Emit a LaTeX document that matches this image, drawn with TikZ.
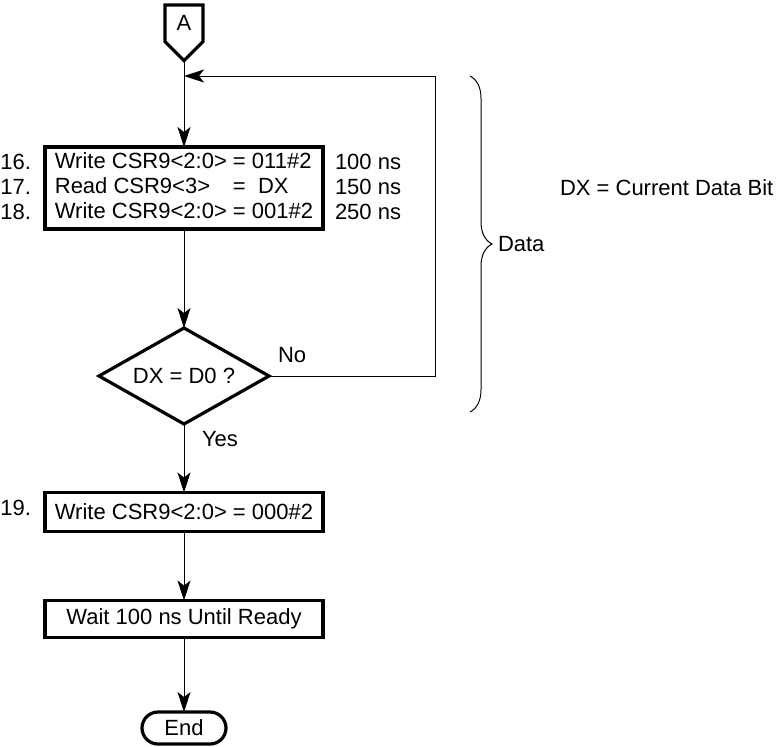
\documentclass[tikz,border=0pt]{standalone}
\usepackage{fontspec}
\setmainfont{Liberation Sans}
\usetikzlibrary{calc, positioning}
\usetikzlibrary{arrows.meta}
\usetikzlibrary{shapes.geometric, shapes.misc, shapes.symbols}
\usetikzlibrary{decorations.pathreplacing}

\begin{document}
\begin{tikzpicture}[
    x=0.5pt,
    y=-0.5pt,
    font=\fontsize{11}{12.5}\selectfont,
    every node/.style={inner sep=0pt, outer sep=0pt},
    flow/.style={-{Stealth[length=10pt, width=6.5pt, inset=2.5pt]}, line width=0.5pt},
    procbox/.style={draw, line width=1.6pt, minimum width=139pt, align=left},
    connector/.style={draw, line width=1.6pt, signal, signal to=south,
        signal pointer angle=90, minimum width=19pt, minimum height=22pt},
    decision/.style={draw, line width=1.6pt, diamond, aspect=2,
        minimum width=85pt, minimum height=48pt},
    terminal/.style={draw, line width=1.6pt, rounded rectangle,
        minimum width=42pt, minimum height=16pt}
]
\useasboundingbox (0,0) rectangle (776,746);

% Flow chart nodes
\node[connector, anchor=north] (conA) at (184,5) {A};
\node[procbox, minimum height=41pt] (rd) at (184,188) {%
    \begin{tabular}{@{}l@{ }l@{}}
    Write CSR9<2:0> & = 011\#2\\
    Read CSR9<3>    & = \ DX\\
    Write CSR9<2:0> & = 001\#2
    \end{tabular}};
\node[decision] (dec) at (184,376) {DX = D0 ?};
\node[procbox, minimum height=19.5pt] (clr) at (184,512) {Write CSR9<2:0> = 000\#2};
\node[procbox, minimum height=18.5pt] (wait) at (184,619) {Wait 100 ns Until Ready};
\node[terminal] (fin) at (184,728) {End};

% Step numbers and times
\foreach \n/\t [count=\i] in {16./100 ns, 17./150 ns, 18./250 ns}
{
    \node[anchor=east] (num\i) at (31,{162+25*(\i-1)}) {\n};
    \node[anchor=west] (time\i) at (335,{162+25*(\i-1)}) {\t};
}
\node[anchor=east] (num4) at (31,508) {19.};

% Loop back
\coordinate (loopR) at (435,76);
\coordinate (loopL) at (184,76);

% Connectors
\draw[flow] (conA.south) -- (rd.north);
\draw[flow] (rd.south) -- (dec.north);
\draw[flow] (dec.east) -| (loopR) -- (loopL);
\draw[flow] (dec.south) -- (clr.north);
\draw[flow] (clr.south) -- (wait.north);
\draw[flow] (wait.south) -- (fin.north);

\node[anchor=west] (no) at (278,355) {No};
\node[anchor=west] (yes) at (202,439) {Yes};

% Brace for the data loop
\draw[line width=0.5pt, decorate, decoration={brace, amplitude=11pt}]
    (470,76) -- (470,412);
\node[anchor=west] (data) at (498,244) {Data};
\node[anchor=west] (note) at (560,188) {DX = Current Data Bit};
\end{tikzpicture}
\end{document}
